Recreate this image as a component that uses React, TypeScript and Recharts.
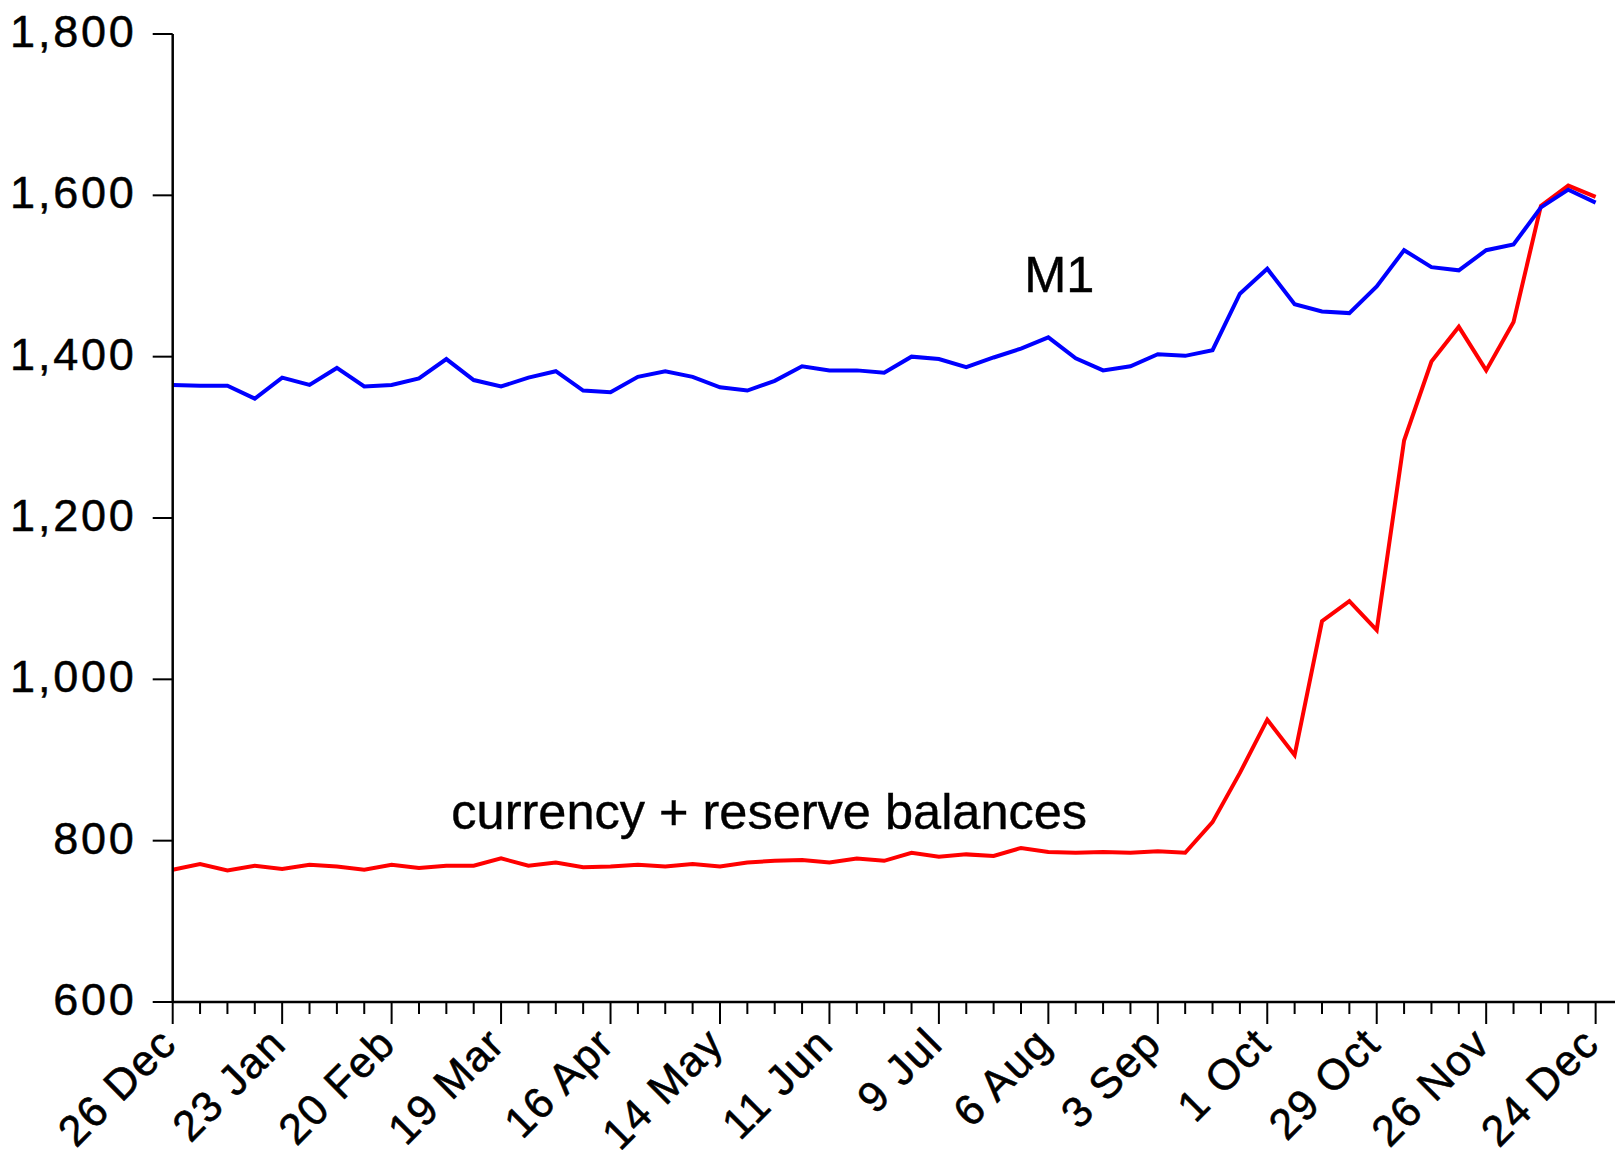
import React from "react";
import { LineChart, Line, XAxis, YAxis, ReferenceDot } from "recharts";

// weekly observations, 26 Dec 2007 .. 24 Dec 2008
const weeks = [
  "26 Dec", "2 Jan", "9 Jan", "16 Jan", "23 Jan", "30 Jan", "6 Feb", "13 Feb",
  "20 Feb", "27 Feb", "5 Mar", "12 Mar", "19 Mar", "26 Mar", "2 Apr", "9 Apr",
  "16 Apr", "23 Apr", "30 Apr", "7 May", "14 May", "21 May", "28 May", "4 Jun",
  "11 Jun", "18 Jun", "25 Jun", "2 Jul", "9 Jul", "16 Jul", "23 Jul", "30 Jul",
  "6 Aug", "13 Aug", "20 Aug", "27 Aug", "3 Sep", "10 Sep", "17 Sep", "24 Sep",
  "1 Oct", "8 Oct", "15 Oct", "22 Oct", "29 Oct", "5 Nov", "12 Nov", "19 Nov",
  "26 Nov", "3 Dec", "10 Dec", "17 Dec", "24 Dec",
];

const m1 = [
  1365, 1364, 1364, 1348, 1374, 1365, 1386, 1363, 1365, 1373, 1397, 1371, 1363,
  1374, 1382, 1358, 1356, 1375, 1382, 1375, 1362, 1358, 1370, 1388, 1383, 1383,
  1380, 1400, 1397, 1387, 1399, 1410, 1424, 1398, 1383, 1388, 1403, 1401, 1408,
  1478, 1509, 1465, 1456, 1454, 1487, 1532, 1511, 1507, 1532, 1539, 1585, 1607,
  1591,
];

const currencyReserves = [
  764, 771, 763, 769, 765, 770, 768, 764, 770, 766, 769, 769, 778, 769, 773,
  767, 768, 770, 768, 771, 768, 773, 775, 776, 773, 778, 775, 785, 780, 783,
  781, 791, 786, 785, 786, 785, 787, 785, 823, 884, 950, 906, 1072, 1097, 1061,
  1296, 1394, 1437, 1383, 1443, 1587, 1612, 1598,
];

const yTicks = [600, 800, 1000, 1200, 1400, 1600, 1800];

const data = weeks.map((w, i) => ({
  i,
  week: w,
  m1: m1[i],
  cur: currencyReserves[i],
}));

// one extra (empty) week at the right so the axis runs on past 24 Dec
const xTicks = [...weeks.map((_, i) => i), weeks.length];

const FONT = "'Liberation Sans', Arial, Helvetica, sans-serif";

const XTick = (props: any) => {
  const { x, y, payload } = props;
  const idx = payload.value;
  const major = idx % 4 === 0;
  const lx = x + 6;
  const ly = y + 44;
  return (
    <g>
      <line x1={x} y1={y} x2={x} y2={y + (major ? 22 : 12)} stroke="#000" strokeWidth={2} />
      {major && weeks[idx] && (
        <text
          x={lx}
          y={ly}
          textAnchor="end"
          fontSize={43}
          fontFamily={FONT}
          letterSpacing={1.5}
          fill="#000"
          stroke="#000"
          strokeWidth={0.6}
          transform={`rotate(-45, ${lx}, ${ly})`}
        >
          {weeks[idx]}
        </text>
      )}
    </g>
  );
};

const YTick = (props: any) => {
  const { x, y, payload } = props;
  return (
    <text
      x={x}
      y={y + 13}
      textAnchor="end"
      fontSize={45}
      fontFamily={FONT}
      letterSpacing={2.8}
      fill="#000"
      stroke="#000"
      strokeWidth={0.5}
    >
      {payload.value.toLocaleString("en-US")}
    </text>
  );
};

const note = (txt: string) => (p: any) => (
  <text
    x={p.cx}
    y={p.cy}
    textAnchor="middle"
    fontSize={50.5}
    fontFamily={FONT}
    fill="#000"
    stroke="#000"
    strokeWidth={0.4}
  >
    {txt}
  </text>
);

export default function App() {
  return (
    <LineChart
      width={1615}
      height={1151}
      data={data}
      margin={{ top: 26, right: 0, bottom: 0, left: 0 }}
    >
      <XAxis
        dataKey="i"
        type="number"
        domain={[0, weeks.length]}
        ticks={xTicks}
        interval={0}
        tickLine={false}
        tickSize={0}
        tickMargin={0}
        tick={<XTick />}
        axisLine={{ stroke: "#000", strokeWidth: 2.5 }}
        height={157}
      />
      <YAxis
        type="number"
        domain={[600, 1800]}
        ticks={yTicks}
        interval={0}
        width={164.7}
        tickSize={20}
        tickMargin={16}
        tickLine={{ stroke: "#000", strokeWidth: 2 }}
        axisLine={{ stroke: "#000", strokeWidth: 2.5 }}
        tick={<YTick />}
      />
      <Line
        type="linear"
        dataKey="cur"
        stroke="#ff0000"
        strokeWidth={4}
        dot={false}
        isAnimationActive={false}
      />
      <Line
        type="linear"
        dataKey="m1"
        stroke="#0000ff"
        strokeWidth={4}
        dot={false}
        isAnimationActive={false}
      />
      <ReferenceDot x={32.4} y={1480} r={0} shape={note("M1")} />
      <ReferenceDot x={21.8} y={815} r={0} shape={note("currency + reserve balances")} />
    </LineChart>
  );
}
